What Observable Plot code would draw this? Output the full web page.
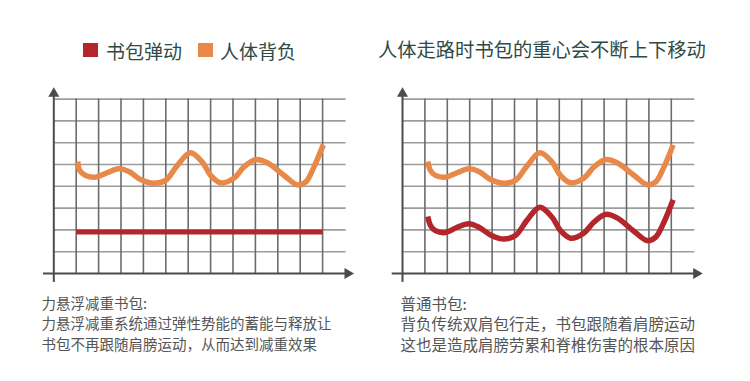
<!DOCTYPE html>
<html>
<head>
<meta charset="utf-8">
<script src="https://cdn.jsdelivr.net/npm/d3@7"></script>
<script src="https://cdn.jsdelivr.net/npm/@observablehq/plot@0.6"></script>
<style>
  html, body { margin: 0; padding: 0; background: #fff; }
  #root { position: relative; width: 750px; height: 381px; overflow: hidden; background: #fff;
          font-family: "Noto Sans CJK SC", "Noto Sans", sans-serif; }
  .abs { position: absolute; white-space: nowrap; }
  .chart { position: absolute; top: 0; }
  .legend-text { color: #2f4a46; font-size: 19px; line-height: 19px; }
  .sw { position: absolute; width: 15px; height: 14px; }
  .cap { color: #555; line-height: 20.5px; }
</style>
</head>
<body>
<div id="root"></div>
<script>
// ---- data ----
const legendLabels = ["书包弹动", "人体背负"];
const seriesColors = ["#b3262c", "#e8894a"];
const rightTitle = "人体走路时书包的重心会不断上下移动";
const leftCaption = ["力悬浮减重书包:", "力悬浮减重系统通过弹性势能的蓄能与释放让", "书包不再跟随肩膀运动，从而达到减重效果"];
const rightCaption = ["普通书包:", "背负传统双肩包行走，书包跟随着肩膀运动", "这也是造成肩膀劳累和脊椎伤害的根本原因"];

const gridX = [1, 2, 3, 4, 5, 6, 7, 8, 9, 10, 11, 12];
const gridY = [1, 2, 3, 4, 5, 6, 7, 8];

// left chart: 人体背负 (orange) wavy, 书包弹动 (red) flat
const leftOrangeX = [1.07, 1.16, 1.42, 1.86, 2.38, 2.90, 3.35, 3.87, 4.46, 4.99, 5.51, 6.10, 6.63, 7.00, 7.44, 8.04, 8.48, 9.00, 9.53, 10.27, 10.87, 11.24, 11.61, 12.03];
const leftOrangeY = [5.14, 4.72, 4.50, 4.42, 4.62, 4.80, 4.68, 4.31, 4.14, 4.27, 4.95, 5.54, 5.11, 4.50, 4.16, 4.37, 4.88, 5.22, 5.08, 4.51, 4.07, 4.19, 4.88, 5.90];
const leftRedX = [1, 12];
const leftRedY = [1.9, 1.9];

// right chart: both wavy
const rightOrangeX = [1.13, 1.25, 1.47, 1.92, 2.44, 2.96, 3.41, 3.93, 4.52, 5.04, 5.57, 6.13, 6.68, 7.05, 7.50, 8.09, 8.54, 9.06, 9.58, 10.33, 10.92, 11.29, 11.67, 12.08];
const rightOrangeY = [5.14, 4.72, 4.50, 4.42, 4.62, 4.80, 4.68, 4.31, 4.14, 4.27, 4.95, 5.54, 5.11, 4.50, 4.16, 4.37, 4.88, 5.22, 5.08, 4.51, 4.07, 4.19, 4.88, 5.90];
const rightRedX = [1.13, 1.25, 1.47, 1.92, 2.44, 2.96, 3.41, 3.93, 4.52, 5.04, 5.57, 6.13, 6.68, 7.05, 7.50, 8.09, 8.54, 9.06, 9.58, 10.33, 10.92, 11.29, 11.67, 12.08];
const rightRedY = [2.61, 2.20, 1.97, 1.88, 2.12, 2.28, 2.12, 1.77, 1.58, 1.74, 2.46, 3.04, 2.58, 1.97, 1.62, 1.85, 2.35, 2.71, 2.55, 1.94, 1.51, 1.66, 2.35, 3.38];

const axisX = {x1: -0.46, x2: 13.1};
const axisY = {y1: -0.41, y2: 8.3};
const arrowTips = [{x: 13.12, y: 0, rot: 90}, {x: 0, y: 8.25, rot: 0}];

// ---- build ----
const zip = (xs, ys) => xs.map((x, i) => ({x, y: ys[i]}));

function makeChart(orange, red, redCurve, marginLeft, marginRight) {
  const axisColor = "#4b4b4b";
  return Plot.plot({
    width: 375, height: 381,
    marginLeft, marginRight, marginTop: 85.5, marginBottom: 97.1,
    x: {domain: [-0.5, 13.5], axis: null},
    y: {domain: [-0.5, 8.6], axis: null},
    style: {background: "transparent"},
    marks: [
      Plot.ruleY(gridY, {x1: 0, x2: 13.05, stroke: "#9c9c9c", strokeWidth: 1.6}),
      Plot.ruleX(gridX, {y1: 0, y2: 8, stroke: "#6c6c6c", strokeWidth: 1.6}),
      Plot.ruleY([0], {x1: axisX.x1, x2: axisX.x2, stroke: axisColor, strokeWidth: 2}),
      Plot.ruleX([0], {y1: axisY.y1, y2: axisY.y2, stroke: axisColor, strokeWidth: 2}),
      Plot.dot(arrowTips, {x: "x", y: "y", symbol: "triangle", r: 4.1, fill: axisColor, stroke: "none", rotate: "rot"}),
      Plot.line(orange, {x: "x", y: "y", stroke: seriesColors[1], strokeWidth: 5.5, curve: "catmull-rom", strokeLinecap: "butt"}),
      Plot.line(red, {x: "x", y: "y", stroke: seriesColors[0], strokeWidth: redCurve ? 5.5 : 5, curve: redCurve ? "catmull-rom" : "linear", strokeLinecap: "butt"})
    ]
  });
}

const root = document.getElementById("root");

const left = makeChart(zip(leftOrangeX, leftOrangeY), zip(leftRedX, leftRedY), false, 42.1, 19.3);
left.classList.add("chart");
left.style.left = "0px";
root.appendChild(left);

const right = makeChart(zip(rightOrangeX, rightOrangeY), zip(rightRedX, rightRedY), true, 15.8, 45.6);
right.classList.add("chart");
right.style.left = "375px";
root.appendChild(right);

function addDiv(cls, text, left, top, extra) {
  const d = document.createElement("div");
  d.className = "abs " + cls;
  d.textContent = text;
  d.style.left = left + "px";
  d.style.top = top + "px";
  if (extra) Object.assign(d.style, extra);
  root.appendChild(d);
  return d;
}
function addSwatch(color, left, top) {
  const s = document.createElement("div");
  s.className = "sw";
  s.style.background = color;
  s.style.left = left + "px";
  s.style.top = top + "px";
  root.appendChild(s);
}

// legend
addSwatch(seriesColors[0], 83, 43);
addDiv("legend-text", legendLabels[0], 106, 41, {fontSize: "19px"});
addSwatch(seriesColors[1], 198, 43);
addDiv("legend-text", legendLabels[1], 220, 41, {fontSize: "19px"});

// right title
addDiv("legend-text", rightTitle, 378, 40, {fontSize: "19.3px"});

// captions
leftCaption.forEach((t, i) => addDiv("cap", t, 41.5, 292.5 + i * 20.5, {fontSize: "14.5px"}));
rightCaption.forEach((t, i) => addDiv("cap", t, 400.5, 292.5 + i * 20.5, {fontSize: "15.5px"}));
</script>
</body>
</html>
